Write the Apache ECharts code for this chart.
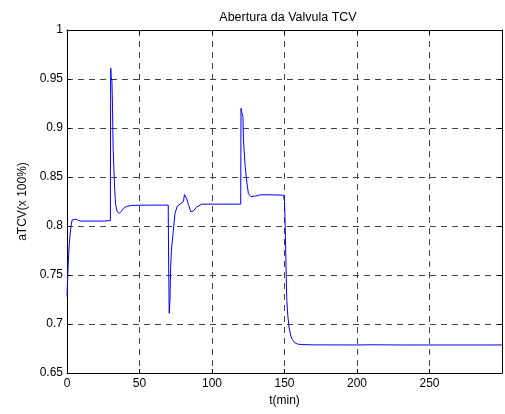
<!DOCTYPE html>
<html>
<head>
<meta charset="utf-8">
<script src="https://cdn.jsdelivr.net/npm/echarts@6/dist/echarts.min.js"></script>
<style>
html,body{margin:0;padding:0;background:#fff;}
#chart{width:505px;height:414px;}
</style>
</head>
<body>
<div id="chart"></div>
<script>
var titleText = 'Abertura da Valvula TCV';
var xName = 't(min)';
var yName = 'aTCV(x 100%)';
var xTicks = [0, 50, 100, 150, 200, 250];
var yTicks = [0.65, 0.7, 0.75, 0.8, 0.85, 0.9, 0.95, 1];

var tMin = [0, 0.4, 0.8, 1.2, 1.6, 2.2, 2.8, 3.5, 4.5, 6, 8, 10, 15, 20, 25, 29.9,
  30.1, 30.2, 30.4, 31.0, 31.4, 31.8, 32.3, 32.8, 33.5, 34.5, 36, 37.5, 39, 41, 45, 55, 65, 69.8,
  70.1, 70.5, 71, 71.5, 72, 72.9, 74.5, 76, 78, 80.3, 81, 81.6, 82.5, 83.7, 85.4, 87.2, 89.5, 93, 100, 110, 119.8,
  120.0, 120.5, 121.3, 121.7, 122.8, 124, 125.1, 126.8, 130, 133.2, 140, 149.3,
  150, 150.5, 151.1, 151.6, 152.3, 153.2, 154.3, 155.5, 157, 159, 162, 170, 200, 210, 230, 260, 290, 300];
var aTCV = [0.728, 0.745, 0.76, 0.772, 0.782, 0.793, 0.8, 0.806, 0.808, 0.807, 0.8055, 0.805, 0.805, 0.805, 0.805, 0.8055,
  0.95, 0.961, 0.952, 0.948, 0.92, 0.88, 0.86, 0.84, 0.822, 0.815, 0.813, 0.815, 0.818, 0.82, 0.821, 0.8213, 0.8213, 0.8213,
  0.76, 0.711, 0.724, 0.758, 0.775, 0.789, 0.813, 0.82, 0.8224, 0.825, 0.832, 0.832, 0.828, 0.822, 0.8145, 0.8155, 0.8195, 0.8223, 0.8223, 0.8223, 0.8223,
  0.92, 0.916, 0.912, 0.888, 0.862, 0.845, 0.833, 0.830, 0.8305, 0.8318, 0.8318, 0.8315,
  0.825, 0.799, 0.755, 0.724, 0.708, 0.696, 0.688, 0.684, 0.681, 0.6795, 0.679, 0.6787, 0.6786, 0.6788, 0.6786, 0.6786, 0.6786, 0.6786];

var data = tMin.map(function (t, i) { return [t, aTCV[i]]; });

var font = 'Liberation Sans, Arial, sans-serif';
var gridLine = { show: true, lineStyle: { color: '#444', type: [6, 5], width: 1 } };

var chart = echarts.init(document.getElementById('chart'), null, { renderer: 'canvas' });
chart.setOption({
  animation: false,
  backgroundColor: '#fff',
  title: {
    text: titleText,
    left: 283,
    top: 6,
    textAlign: 'center',
    textStyle: { fontFamily: font, fontSize: 12.5, fontWeight: 'normal', color: '#000' }
  },
  grid: { left: 67, right: 3, top: 30, bottom: 41 },
  xAxis: [{
    type: 'value', min: 0, max: 300, interval: 50,
    name: xName, nameLocation: 'middle', nameGap: 22,
    nameTextStyle: { fontFamily: font, fontSize: 12, color: '#000' },
    axisLine: { show: true, lineStyle: { color: '#000', width: 1 } },
    axisTick: { show: true, inside: true, length: 4, lineStyle: { color: '#000' } },
    axisLabel: { fontFamily: font, fontSize: 12, color: '#000', margin: 5,
      formatter: function (v) { return xTicks.indexOf(v) >= 0 ? String(v) : ''; } },
    splitLine: gridLine
  }, {
    type: 'value', min: 0, max: 300, interval: 50, position: 'top',
    axisLine: { show: true, onZero: false, lineStyle: { color: '#000', width: 1 } },
    axisTick: { show: true, inside: true, length: 4, lineStyle: { color: '#000' } },
    axisLabel: { show: false }, splitLine: { show: false }
  }],
  yAxis: [{
    type: 'value', min: 0.65, max: 1, interval: 0.05,
    name: yName, nameLocation: 'middle', nameGap: 36, nameRotate: 90,
    nameTextStyle: { fontFamily: font, fontSize: 12, color: '#000' },
    axisLine: { show: true, lineStyle: { color: '#000', width: 1 } },
    axisTick: { show: true, inside: true, length: 4, lineStyle: { color: '#000' } },
    axisLabel: { fontFamily: font, fontSize: 12, color: '#000', margin: 4,
      formatter: function (v) {
        var r = Math.round(v * 100) / 100;
        for (var i = 0; i < yTicks.length; i++) { if (Math.abs(yTicks[i] - r) < 1e-9) return String(yTicks[i]); }
        return '';
      } },
    splitLine: gridLine
  }, {
    type: 'value', min: 0.65, max: 1, interval: 0.05, position: 'right',
    axisLine: { show: true, onZero: false, lineStyle: { color: '#000', width: 1 } },
    axisTick: { show: true, inside: true, length: 4, lineStyle: { color: '#000' } },
    axisLabel: { show: false }, splitLine: { show: false }
  }],
  series: [{
    type: 'line',
    data: data,
    xAxisIndex: 0, yAxisIndex: 0,
    showSymbol: false,
    symbol: 'none',
    lineStyle: { color: '#0000ff', width: 1 },
    z: 5
  }]
});
</script>
</body>
</html>
